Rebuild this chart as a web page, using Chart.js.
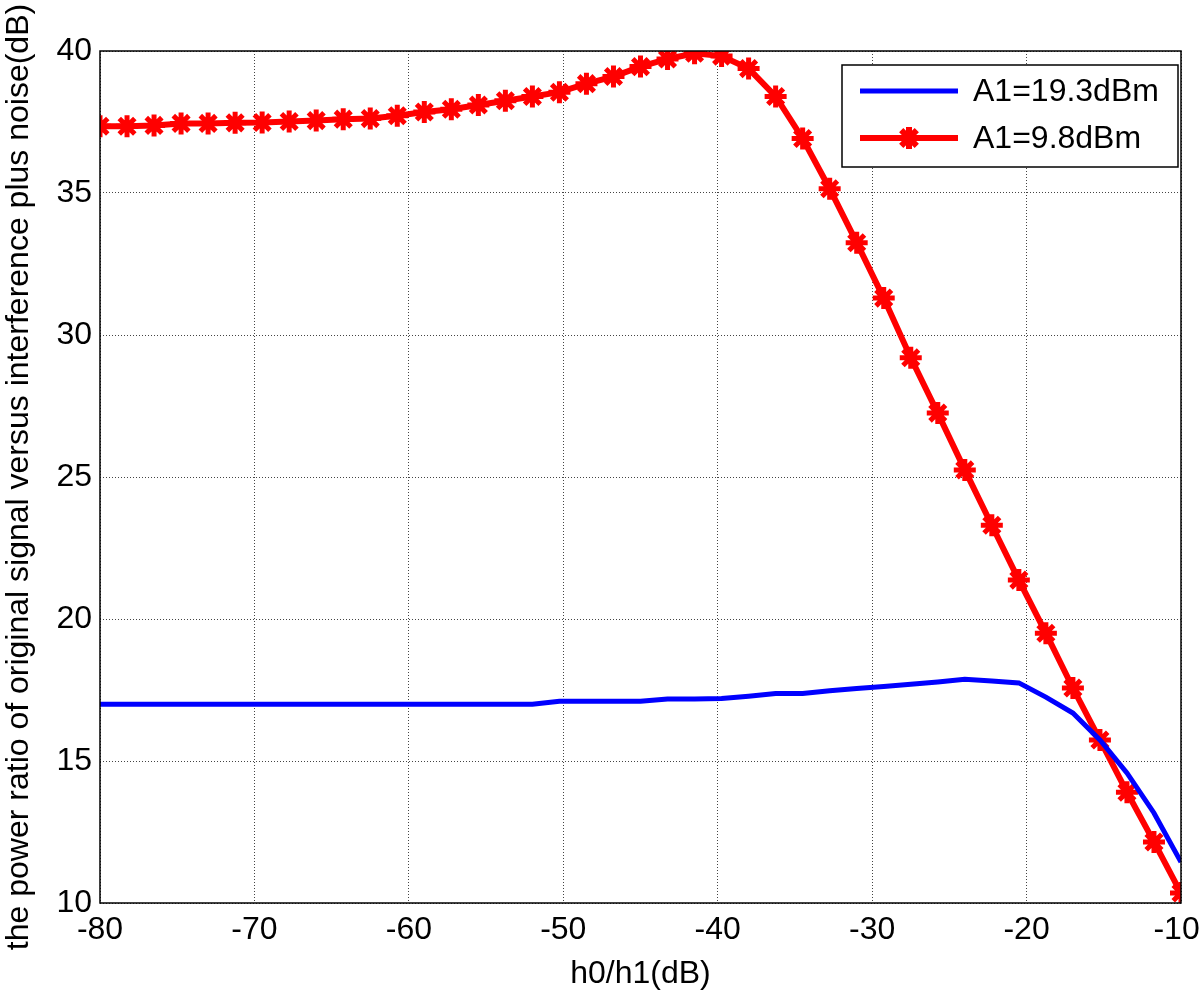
<!DOCTYPE html>
<html>
<head>
<meta charset="utf-8">
<script src="https://cdn.jsdelivr.net/npm/chart.js@4.4.0/dist/chart.umd.min.js"></script>
<style>
  html, body { margin: 0; padding: 0; background: #fff; }
  #wrap { width: 1200px; height: 993px; }
</style>
</head>
<body>
<div id="wrap"><canvas id="c" width="1200" height="993"></canvas></div>
<script>
// x positions (dB), same grid for both curves
const xValues = [-80, -78.25, -76.5, -74.75, -73, -71.25, -69.5, -67.75, -66, -64.25,
  -62.5, -60.75, -59, -57.25, -55.5, -53.75, -52, -50.25, -48.5, -46.75,
  -45, -43.25, -41.5, -39.75, -38, -36.25, -34.5, -32.75, -31, -29.25,
  -27.5, -25.75, -24, -22.25, -20.5, -18.75, -17, -15.25, -13.5, -11.75, -10];

const blueValues = [17.0, 17.0, 17.0, 17.0, 17.0, 17.0, 17.0, 17.0, 17.0, 17.0,
  17.0, 17.0, 17.0, 17.0, 17.0, 17.0, 17.0, 17.1, 17.1, 17.1,
  17.1, 17.18, 17.18, 17.2, 17.28, 17.38, 17.38, 17.47, 17.55, 17.62,
  17.7, 17.78, 17.88, 17.82, 17.75, 17.25, 16.69, 15.74, 14.58, 13.17, 11.44];

const redValues = [37.35, 37.35, 37.38, 37.45, 37.45, 37.47, 37.48, 37.52, 37.55, 37.6,
  37.62, 37.72, 37.85, 37.95, 38.1, 38.25, 38.4, 38.55, 38.85, 39.1,
  39.45, 39.72, 39.92, 39.82, 39.38, 38.4, 36.92, 35.15, 33.25, 31.3,
  29.2, 27.25, 25.25, 23.3, 21.37, 19.5, 17.57, 15.74, 13.9, 12.15, 10.35];

const seriesLabels = ['A1=19.3dBm', 'A1=9.8dBm'];
const xTicks = [-80, -70, -60, -50, -40, -30, -20, -10];
const yTicks = [10, 15, 20, 25, 30, 35, 40];

const FONT = 'Liberation Sans, Arial, Helvetica, sans-serif';

function toPoints(xs, ys) {
  return xs.map(function (x, i) { return { x: x, y: ys[i] }; });
}

// box around plot + legend inside the axes
const boxAndLegend = {
  id: 'boxAndLegend',
  afterDatasetsDraw: function (chart) {
    const ctx = chart.ctx;
    const a = chart.chartArea;
    ctx.save();
    ctx.strokeStyle = '#000';
    ctx.lineWidth = 1.5;
    ctx.strokeRect(a.left, a.top, a.right - a.left, a.bottom - a.top);

    // legend
    const lx = 842, ly = 65, lw = 336, lh = 102;
    ctx.fillStyle = '#fff';
    ctx.fillRect(lx, ly, lw, lh);
    ctx.strokeStyle = '#000';
    ctx.lineWidth = 1.5;
    ctx.strokeRect(lx, ly, lw, lh);
    ctx.font = '32px ' + FONT;
    ctx.textBaseline = 'middle';
    chart.data.datasets.forEach(function (ds, i) {
      const y = ly + 26 + i * 47;
      ctx.strokeStyle = ds.borderColor;
      ctx.lineWidth = ds.borderWidth;
      ctx.beginPath();
      ctx.moveTo(860, y);
      ctx.lineTo(958, y);
      ctx.stroke();
      if (ds.pointRadius > 0) {
        Chart.helpers.drawPoint(ctx, {
          pointStyle: ds.pointStyle,
          radius: ds.pointRadius,
          borderWidth: ds.pointBorderWidth
        }, 909, y);
      }
      ctx.fillStyle = '#000';
      ctx.fillText(ds.label, 973, y + 1);
    });
    ctx.restore();
  }
};

const ctx = document.getElementById('c');
new Chart(ctx, {
  type: 'line',
  data: {
    datasets: [
      {
        label: seriesLabels[0],
        data: toPoints(xValues, blueValues),
        borderColor: '#0000ff',
        borderWidth: 5,
        pointRadius: 0,
        tension: 0
      },
      {
        label: seriesLabels[1],
        data: toPoints(xValues, redValues),
        borderColor: '#ff0000',
        backgroundColor: '#ff0000',
        borderWidth: 6,
        pointStyle: 'star',
        pointRadius: 11,
        pointBorderWidth: 5,
        pointBorderColor: '#ff0000',
        pointBackgroundColor: '#ff0000',
        tension: 0
      }
    ]
  },
  options: {
    responsive: false,
    animation: false,
    layout: { padding: { top: 51, right: 19, left: 0, bottom: 0 } },
    plugins: {
      legend: { display: false },
      tooltip: { enabled: false }
    },
    scales: {
      x: {
        type: 'linear',
        min: -80,
        max: -10,
        afterBuildTicks: function (s) { s.ticks = xTicks.map(function (v) { return { value: v }; }); },
        afterFit: function (s) { s.height = 90; s.paddingRight = 0; s.paddingLeft = 0; },
        ticks: {
          color: '#000',
          font: { family: FONT, size: 32 },
          padding: 8,
          maxRotation: 0,
          // last label sits on the right edge, nudge it in a bit
          callback: function (v) { return v === -10 ? '-10 ' : String(v); }
        },
        grid: { color: '#444', lineWidth: 1, drawTicks: false },
        border: { display: false, dash: [1, 2] },
        title: { display: true, text: 'h0/h1(dB)', color: '#000', font: { family: FONT, size: 32 }, padding: 0 }
      },
      y: {
        min: 10,
        max: 40,
        afterBuildTicks: function (s) { s.ticks = yTicks.map(function (v) { return { value: v }; }); },
        afterFit: function (s) { s.width = 100; s.paddingTop = 0; s.paddingBottom = 0; },
        ticks: { color: '#000', font: { family: FONT, size: 32 }, padding: 8 },
        grid: { color: '#444', lineWidth: 1, drawTicks: false },
        border: { display: false, dash: [1, 2] },
        title: {
          display: true,
          text: 'the power ratio of original signal versus interference plus noise(dB)',
          color: '#000',
          font: { family: FONT, size: 32 },
          padding: 0
        }
      }
    }
  },
  plugins: [boxAndLegend]
});
</script>
</body>
</html>
